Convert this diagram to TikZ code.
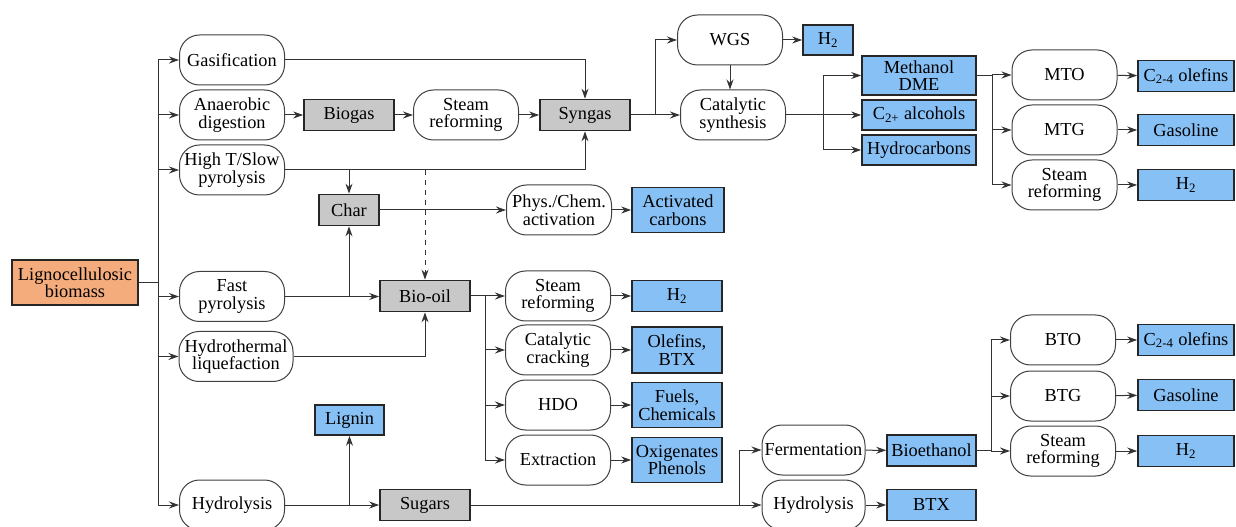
\documentclass[tikz,border=0pt]{standalone}
\usepackage{fontspec}
\setmainfont{Liberation Serif}
\usepackage{xcolor}
\usepackage{tikz}
\usetikzlibrary{arrows.meta}

\definecolor{feedorange}{RGB}{245,172,125}
\definecolor{prodblue}{RGB}{135,192,245}
\definecolor{midgray}{RGB}{200,200,200}

\tikzset{
  proc/.style={draw=black!75, line width=0.6pt, rounded corners=12pt, fill=white,
    align=center, inner sep=1pt, minimum width=63pt, minimum height=30pt},
  prod/.style={draw=black!85, line width=1pt, fill=prodblue,
    align=center, inner sep=1pt, minimum width=54pt, minimum height=18.6pt},
  inter/.style={draw=black!85, line width=1pt, fill=midgray,
    align=center, inner sep=1pt, minimum width=54pt, minimum height=18.6pt},
  feed/.style={draw=black!85, line width=1pt, fill=feedorange,
    align=center, inner sep=1pt, minimum width=75.6pt, minimum height=27pt},
  link/.style={draw=black!80, line width=0.6pt},
  arr/.style={link, -{Stealth[length=6pt,width=4.2pt]}}
}

\begin{document}
\begin{tikzpicture}[x=0.6pt,y=-0.6pt,font=\fontsize{11}{10.5}\selectfont]
  \useasboundingbox (0,0) rectangle (1236,527);

  % Feedstock and first conversion routes
  \node[feed] (bio) at (75,282.5) {Lignocellulosic\\biomass};
  \node[proc] (gas)  at (232,60)    {Gasification};
  \node[proc] (ad)   at (232,115)   {Anaerobic\\digestion};
  \node[proc] (slow) at (232,170)   {High T/Slow\\pyrolysis};
  \node[proc] (fast) at (232,296.5) {Fast\\pyrolysis};
  \node[proc, minimum width=68.4pt] (htl) at (236,356.5) {Hydrothermal\\liquefaction};
  \node[proc] (hyd)  at (232,505)   {Hydrolysis};

  \coordinate (trunk) at (158,282.5);
  \draw[link] (bio.east) -- (trunk);
  \draw[link] (trunk |- gas.west) -- (trunk |- hyd.west);
  \foreach \n in {gas,ad,slow,fast,htl,hyd} {
    \draw[arr] (trunk |- \n.west) -- (\n.west);
  }

  % Gas route
  \node[inter] (biogas) at (349,115) {Biogas};
  \node[proc] (sr1) at (466,115) {Steam\\reforming};
  \node[inter] (syn) at (585,115) {Syngas};
  \draw[arr] (ad) -- (biogas);
  \draw[arr] (biogas) -- (sr1);
  \draw[arr] (sr1) -- (syn);
  \draw[arr] (gas.east) -| (syn.north);
  \draw[arr] (slow.east) -| (syn.south);

  \node[proc] (wgs) at (730,40) {WGS};
  \node[prod, minimum width=30pt, minimum height=18pt] (h2a) at (828,40) {H\textsubscript{2}};
  \node[proc] (cat) at (733,115) {Catalytic\\synthesis};
  \draw[arr] (syn) -- (cat);
  \coordinate (sb) at (655,115);
  \draw[arr] (sb) |- (wgs.west);
  \draw[arr] (wgs) -- (h2a);
  \draw[arr] (wgs.south) -- (wgs.south |- cat.north);

  \node[prod, minimum width=68.4pt, minimum height=23.4pt] (meoh) at (919,75.5) {Methanol\\DME};
  \node[prod, minimum width=68.4pt, minimum height=18pt] (c2) at (919,115) {C\textsubscript{2+} alcohols};
  \node[prod, minimum width=68.4pt, minimum height=18pt] (hc) at (919,150) {Hydrocarbons};
  \coordinate (cb) at (823,115);
  \draw[arr] (cat) -- (c2);
  \draw[arr] (cb) |- (meoh.west);
  \draw[arr] (cb) |- (hc.west);

  \node[proc] (mto) at (1064.5,75)  {MTO};
  \node[proc] (mtg) at (1064.5,130) {MTG};
  \node[proc] (sr2) at (1064.5,185) {Steam\\reforming};
  \node[prod, minimum width=57.6pt] (ol1)   at (1186,76)  {C\textsubscript{2-4} olefins};
  \node[prod, minimum width=57.6pt] (gaso1) at (1186,130) {Gasoline};
  \node[prod, minimum width=57.6pt] (h2b)   at (1186,185) {H\textsubscript{2}};
  \coordinate (mb) at (992,75.5);
  \draw[link] (meoh.east) -- (mb);
  \foreach \p/\q in {mto/ol1,mtg/gaso1,sr2/h2b} {
    \draw[arr] (mb |- \p.west) -- (\p.west);
    \draw[arr] (\p) -- (\q);
  }
  \draw[link] (mb) -- (mb |- sr2.west);

  % Char route
  \node[inter, minimum width=36pt] (char) at (349,210) {Char};
  \node[proc] (act) at (559,210) {Phys./Chem.\\activation};
  \node[prod, minimum width=55.2pt, minimum height=27pt] (ac) at (678,210) {Activated\\carbons};
  \draw[arr] (slow.east -| char) -- (char.north);
  \draw[arr] (fast.east -| char) -- (char.south);
  \draw[arr] (char) -- (act);
  \draw[arr] (act) -- (ac);

  % Bio-oil route
  \node[inter] (oil) at (425,296) {Bio-oil};
  \draw[arr] (fast.east) -- (oil.west |- fast.east);
  \draw[arr] (htl.east) -| (oil.south);
  \draw[arr, dashed] (slow.east -| oil) -- (oil.north);

  \node[proc] (sr3) at (558,296) {Steam\\reforming};
  \node[proc] (cc)  at (558,350) {Catalytic\\cracking};
  \node[proc] (hdo) at (558,405) {HDO};
  \node[proc] (ext) at (558,460) {Extraction};
  \node[prod] (h2c) at (677,296) {H\textsubscript{2}};
  \node[prod, minimum height=27.6pt] (olbtx) at (677,350) {Olefins,\\BTX};
  \node[prod, minimum height=27pt] (fuel) at (677,405) {Fuels,\\Chemicals};
  \node[prod, minimum height=27pt] (oxi)  at (677,460) {Oxigenates\\Phenols};
  \coordinate (ob) at (485,296);
  \draw[link] (oil.east) -- (ob);
  \foreach \p/\q in {sr3/h2c,cc/olbtx,hdo/fuel,ext/oxi} {
    \draw[arr] (ob |- \p.west) -- (\p.west);
    \draw[arr] (\p) -- (\q);
  }
  \draw[link] (ob) -- (ob |- ext.west);

  % Sugar route
  \node[prod, minimum width=41.4pt, minimum height=18pt] (lignin) at (349.5,420) {Lignin};
  \node[inter] (sug) at (425,505) {Sugars};
  \draw[arr] (hyd) -- (sug);
  \draw[arr] (hyd.east -| lignin) -- (lignin.south);

  \node[proc, minimum width=61.8pt] (ferm) at (813.5,450) {Fermentation};
  \node[proc, minimum width=61.8pt] (hyd2) at (813.5,505) {Hydrolysis};
  \node[prod, minimum width=53.4pt] (etoh) at (931.5,450.5) {Bioethanol};
  \node[prod, minimum width=53.4pt] (btx)  at (931.5,505) {BTX};
  \coordinate (gb) at (739,505);
  \draw[arr] (sug) -- (hyd2);
  \draw[arr] (gb) |- (ferm.west);
  \draw[arr] (ferm) -- (etoh);
  \draw[arr] (hyd2) -- (btx);

  \node[proc] (bto) at (1063,340) {BTO};
  \node[proc] (btg) at (1063,396) {BTG};
  \node[proc] (sr4) at (1063,451) {Steam\\reforming};
  \node[prod, minimum width=57.6pt] (ol2)   at (1186,340) {C\textsubscript{2-4} olefins};
  \node[prod, minimum width=57.6pt] (gaso2) at (1186,395) {Gasoline};
  \node[prod, minimum width=57.6pt] (h2d)   at (1186,451) {H\textsubscript{2}};
  \coordinate (eb) at (991,450.5);
  \draw[link] (etoh.east) -- (eb);
  \foreach \p/\q in {bto/ol2,btg/gaso2,sr4/h2d} {
    \draw[arr] (eb |- \p.west) -- (\p.west);
    \draw[arr] (\p) -- (\q);
  }
  \draw[link] (eb) -- (eb |- bto.west);
\end{tikzpicture}
\end{document}
